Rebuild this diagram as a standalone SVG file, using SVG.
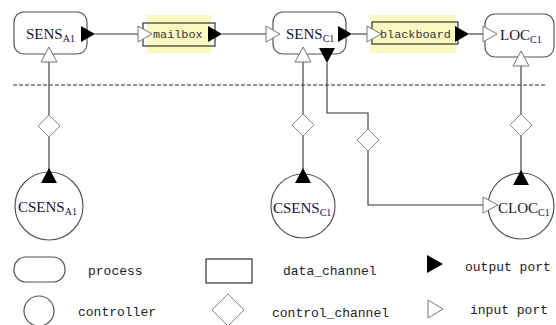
<svg xmlns="http://www.w3.org/2000/svg" width="556" height="325" viewBox="0 0 556 325">
  <style>
    .proc { fill: #fff; stroke: #555; stroke-width: 1.2; }
    .chan { fill: none; stroke: #333; stroke-width: 1.2; }
    .hl { fill: #fbf9c2; }
    .ctrl { fill: #fff; stroke: #555; stroke-width: 1.2; }
    .dia { fill: #fff; stroke: #888; stroke-width: 1; }
    .out { fill: #000; }
    .in { fill: #fff; stroke: #777; stroke-width: 1; }
    .wire { fill: none; stroke: #333; stroke-width: 1.1; }
    .lbl { font-family: "Liberation Serif", "Times New Roman", serif; font-size: 15px; fill: #14143a; }
    .sub { font-size: 10px; }
    .mono { font-family: "Liberation Mono", "Courier New", monospace; font-size: 13px; fill: #222; }
    .cmono { font-family: "Liberation Mono", "Courier New", monospace; font-size: 11.8px; fill: #333; }
  </style>

  <!-- separator between processes and controllers -->
  <line x1="13" y1="85" x2="547" y2="85" stroke="#333" stroke-width="1" stroke-dasharray="4,2"/>

  <!-- connectors -->
  <g id="connectors">
    <line class="wire" x1="95" y1="34" x2="138" y2="34"/>
    <line class="wire" x1="222" y1="34" x2="266" y2="34"/>
    <line class="wire" x1="352" y1="34" x2="367" y2="34"/>
    <line class="wire" x1="469" y1="34" x2="483" y2="34"/>
    <line class="wire" x1="49" y1="62" x2="49" y2="170"/>
    <line class="wire" x1="303" y1="62" x2="303" y2="170"/>
    <line class="wire" x1="521" y1="66" x2="521" y2="172"/>
    <polyline class="wire" points="327,63 327,113 368,113 368,205 483,205"/>
    <polygon class="dia" points="49,115 60,126 49,137 38,126"/>
    <polygon class="dia" points="303,114 314,125 303,136 292,125"/>
    <polygon class="dia" points="368,129 379,140 368,151 357,140"/>
    <polygon class="dia" points="521,114 532,125 521,136 510,125"/>
  </g>

  <!-- process SENS A1 -->
  <g id="sens-a1">
    <rect class="proc" x="14" y="12" width="73" height="42" rx="10"/>
    <text class="lbl" x="26" y="39">SENS<tspan class="sub" dy="3">A1</tspan></text>
    <polygon class="out" points="81,26 95,34 81,42"/>
    <polygon class="in" points="49,47 57,62 41,62"/>
  </g>

  <!-- data channel mailbox -->
  <g id="mailbox">
    <rect class="hl" x="147" y="15" width="64" height="38"/>
    <rect class="chan" x="143" y="23" width="72" height="23"/>
    <text class="cmono" x="153" y="38">mailbox</text>
    <polygon class="in" points="138,26 152,34 138,42"/>
    <polygon class="out" points="208,26 222,34 208,42"/>
  </g>

  <!-- process SENS C1 -->
  <g id="sens-c1">
    <rect class="proc" x="273" y="12" width="73" height="42" rx="10"/>
    <text class="lbl" x="286" y="39">SENS<tspan class="sub" dy="3">C1</tspan></text>
    <polygon class="in" points="266,26 280,34 266,42"/>
    <polygon class="out" points="338,26 352,34 338,42"/>
    <polygon class="in" points="303,47 311,62 295,62"/>
    <polygon class="out" points="319,48 335,48 327,63"/>
  </g>

  <!-- data channel blackboard -->
  <g id="blackboard">
    <rect class="hl" x="370" y="15" width="86" height="38"/>
    <rect class="chan" x="372" y="22" width="86" height="22"/>
    <text class="cmono" x="380" y="38">blackboard</text>
    <polygon class="in" points="367,26 381,34 367,42"/>
    <polygon class="out" points="455,26 469,34 455,42"/>
  </g>

  <!-- process LOC C1 -->
  <g id="loc-c1">
    <rect class="proc" x="485" y="14" width="69" height="43" rx="10"/>
    <text class="lbl" x="500" y="40">LOC<tspan class="sub" dy="3">C1</tspan></text>
    <polygon class="in" points="483,26 497,34 483,42"/>
    <polygon class="in" points="521,51 529,66 513,66"/>
  </g>

  <!-- controller CSENS A1 -->
  <g id="csens-a1">
    <circle class="ctrl" cx="49" cy="206" r="34"/>
    <polygon class="out" points="49,168 57,183 41,183"/>
    <text class="lbl" x="18" y="212">CSENS<tspan class="sub" dy="3">A1</tspan></text>
  </g>

  <!-- controller CSENS C1 -->
  <g id="csens-c1">
    <circle class="ctrl" cx="303" cy="206" r="32"/>
    <polygon class="out" points="303,168 311,183 295,183"/>
    <text class="lbl" x="273" y="213">CSENS<tspan class="sub" dy="3">C1</tspan></text>
  </g>

  <!-- controller CLOC C1 -->
  <g id="cloc-c1">
    <circle class="ctrl" cx="521" cy="206" r="33"/>
    <polygon class="out" points="521,170 529,185 513,185"/>
    <polygon class="in" points="483,197 498,205 483,213"/>
    <text class="lbl" x="498" y="213">CLOC<tspan class="sub" dy="3">C1</tspan></text>
  </g>

  <!-- legend -->
  <g id="legend">
    <rect class="proc" x="14" y="257" width="51" height="25" rx="12"/>
    <text class="mono" x="88" y="275">process</text>
    <rect class="chan" x="206" y="259" width="46" height="24"/>
    <text class="mono" x="283" y="275">data_channel</text>
    <polygon class="out" points="427,255 443,264 427,273"/>
    <text class="mono" x="465" y="271">output port</text>
    <circle class="ctrl" cx="39" cy="311" r="15"/>
    <text class="mono" x="78" y="316">controller</text>
    <polygon class="dia" points="228,294 244,310 228,326 212,310"/>
    <text class="mono" x="272" y="317">control_channel</text>
    <polygon class="in" points="428,300 443,309 428,318"/>
    <text class="mono" x="470" y="314">input port</text>
  </g>
</svg>
